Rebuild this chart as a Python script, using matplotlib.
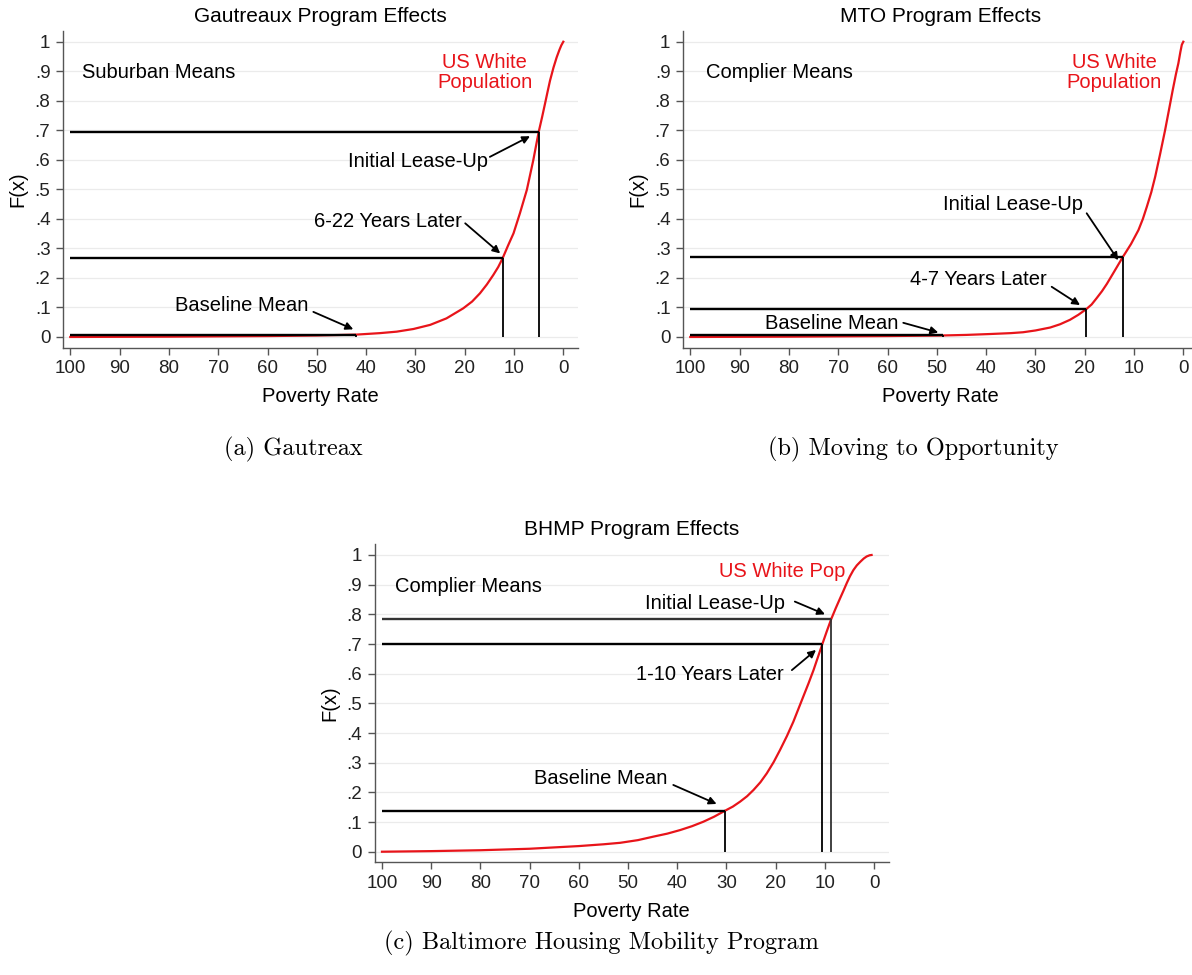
import numpy as np
import matplotlib
matplotlib.use("Agg")
import matplotlib.pyplot as plt

plt.rcParams['font.family'] = ['Liberation Sans', 'DejaVu Sans']

# CDF of poverty rate, US white population
pov_a = [100, 90, 80, 70, 60, 50, 42, 37.2, 33.8, 30.4, 27, 23.7, 20.3, 18.5, 16.9, 15.5,
         14.2, 13.2, 12.3, 11.2, 10.1, 8.8, 7.4, 6.1, 5.0, 4.3, 3.7, 3.2, 2.7, 2.0, 1.35,
         0.8, 0.4, 0]
cdf_a = [0, 0.0005, 0.001, 0.002, 0.003, 0.005, 0.008, 0.013, 0.018, 0.027, 0.041, 0.063,
         0.097, 0.12, 0.148, 0.178, 0.21, 0.237, 0.267, 0.31, 0.351, 0.419, 0.498, 0.598,
         0.694, 0.745, 0.791, 0.83, 0.868, 0.912, 0.947, 0.972, 0.988, 1.0]

pov_b = [100, 80, 60, 49, 44, 39.2, 35, 32.5, 30, 27, 25, 23, 21.3, 19.7, 18.6, 17.6, 16.5,
         15.5, 14, 12.3, 10.6, 9.1, 8.2, 7.4, 6.5, 5.7, 4.7, 3.7, 2.9, 2.15, 1.5, 1.0, 0.6,
         0.3, 0]
cdf_b = [0, 0.001, 0.003, 0.005, 0.007, 0.01, 0.013, 0.016, 0.022, 0.032, 0.043, 0.058,
         0.075, 0.094, 0.11, 0.131, 0.155, 0.18, 0.222, 0.27, 0.315, 0.362, 0.40, 0.441,
         0.49, 0.543, 0.62, 0.70, 0.77, 0.836, 0.89, 0.927, 0.965, 0.99, 1.0]

pov_c = [100, 90, 80, 70, 60, 55, 51.6, 48, 44.8, 42, 39.4, 37, 34.7, 32.5, 30.3, 28.7,
         27.2, 25.8, 24.5, 23.1, 21.8, 20.4, 19.1, 17.7, 16.4, 15.4, 14.4, 13.3, 12.3,
         11.4, 10.5, 9.6, 8.7, 7.8, 6.9, 6.2, 5.55, 4.9, 4.2, 3.5, 2.8, 2.1, 1.5, 0.9, 0.5]
cdf_c = [0, 0.002, 0.005, 0.01, 0.019, 0.025, 0.03, 0.039, 0.051, 0.061, 0.073, 0.086,
         0.101, 0.118, 0.138, 0.152, 0.169, 0.187, 0.208, 0.234, 0.264, 0.302, 0.343, 0.39,
         0.438, 0.48, 0.522, 0.568, 0.612, 0.656, 0.70, 0.743, 0.784, 0.82, 0.854, 0.88,
         0.905, 0.928, 0.949, 0.965, 0.977, 0.988, 0.995, 0.999, 1.0]

# program means: baseline, later, initial lease-up
mean_pov_a = [42.0, 12.3, 5.0]
mean_cdf_a = [0.008, 0.267, 0.694]
mean_pov_b = [48.7, 19.8, 12.3]
mean_cdf_b = [0.006, 0.094, 0.27]
mean_pov_c = [30.3, 10.5, 8.7]
mean_cdf_c = [0.138, 0.70, 0.784]

xticks = [100, 90, 80, 70, 60, 50, 40, 30, 20, 10, 0]
yticks = [0, .1, .2, .3, .4, .5, .6, .7, .8, .9, 1]
ylabels = ['0', '.1', '.2', '.3', '.4', '.5', '.6', '.7', '.8', '.9', '1']

titles = ['Gautreaux Program Effects', 'MTO Program Effects', 'BHMP Program Effects']
groups = ['Suburban Means', 'Complier Means', 'Complier Means']
captions = ['(a) Gautreax', '(b) Moving to Opportunity', '(c) Baltimore Housing Mobility Program']

W, H = 1192, 975
RED = '#e8141a'
fig = plt.figure(figsize=(W / 100, H / 100), dpi=100)


def px_axes(x0, x1, y0, y1):
    return fig.add_axes([x0 / W, 1 - y1 / H, (x1 - x0) / W, (y1 - y0) / H])


def panel(ax, pov, cdf, mpov, mcdf, title, group, grp_xy, pop_text, pop_xy, pop_ha, notes):
    ax.set_xlim(101.5, -3)
    ax.set_ylim(-0.036, 1.036)
    for yv in yticks:
        ax.axhline(yv, color='#ebebeb', lw=0.9, zorder=0)
    ax.plot(pov, cdf, color=RED, lw=1.6, zorder=2, solid_joinstyle='round')
    for i, (p, f) in enumerate(zip(mpov, mcdf)):
        c = '#333333' if (i == 2 and pop_ha == 'right') else 'black'
        ax.plot([100, p], [f, f], color=c, lw=1.7, zorder=3, solid_capstyle='butt')
        ax.plot([p, p], [0, f], color=c, lw=1.3, zorder=3, solid_capstyle='butt')
    for s in ['top', 'right']:
        ax.spines[s].set_visible(False)
    for s in ['left', 'bottom']:
        ax.spines[s].set_color('#555555')
        ax.spines[s].set_linewidth(1.0)
    ax.set_xticks(xticks)
    ax.set_yticks(yticks, ylabels)
    ax.tick_params(direction='out', length=5, width=1, color='#555555',
                   labelsize=13.5, labelcolor='#222222', pad=4)
    ax.set_ylabel('F(x)', fontsize=14.5, va='center')
    ax.yaxis.set_label_coords(-0.087, 0.5)
    ax.set_xlabel('Poverty Rate', fontsize=14.5, va='center')
    ax.xaxis.set_label_coords(0.5, -0.155)
    ax.text(0.5, 1.045, title, transform=ax.transAxes, ha='center', va='center', fontsize=15)
    ax.text(grp_xy[0], grp_xy[1], group, ha='left', va='center', fontsize=14.5)
    ax.text(pop_xy[0], pop_xy[1], pop_text, ha=pop_ha, va='center', multialignment='center',
            color=RED, fontsize=14.5, linespacing=1.05)
    for txt, txy, tail, tip in notes:
        ax.text(txy[0], txy[1], txt, ha='right', va='center', fontsize=14.5)
        ax.annotate('', xy=tip, xytext=tail,
                    arrowprops=dict(arrowstyle='-|>', color='black', lw=1.3,
                                    mutation_scale=11, shrinkA=0, shrinkB=0))


ax_a = px_axes(62.9, 578.1, 31.1, 347.6)
panel(ax_a, pov_a, cdf_a, mean_pov_a, mean_cdf_a, titles[0], groups[0], (97.6, 0.897),
      'US White\nPopulation', (15.9, 0.897), 'center',
      [('Initial Lease-Up', (15.2, 0.594), (14.9, 0.61), (6.75, 0.68)),
       ('6-22 Years Later', (20.6, 0.39), (19.9, 0.385), (12.8, 0.283)),
       ('Baseline Mean', (51.7, 0.108), (50.7, 0.085), (42.6, 0.026))])

ax_b = px_axes(682.9, 1198.1, 31.1, 347.6)
panel(ax_b, pov_b, cdf_b, mean_pov_b, mean_cdf_b, titles[1], groups[1], (96.8, 0.897),
      'US White\nPopulation', (14.0, 0.897), 'center',
      [('Initial Lease-Up', (20.3, 0.447), (19.6, 0.419), (13.2, 0.26)),
       ('4-7 Years Later', (27.7, 0.195), (26.7, 0.17), (20.95, 0.108)),
       ('Baseline Mean', (57.8, 0.044), (56.8, 0.048), (49.7, 0.015))])

ax_c = px_axes(374.6, 888.8, 544.3, 862.4)
panel(ax_c, pov_c, cdf_c, mean_pov_c, mean_cdf_c, titles[2], groups[2], (97.4, 0.893),
      'US White Pop', (5.9, 0.944), 'right',
      [('Initial Lease-Up', (18.1, 0.837), (16.1, 0.843), (9.96, 0.80)),
       ('1-10 Years Later', (18.4, 0.596), (16.7, 0.612), (11.8, 0.68)),
       ('Baseline Mean', (42.1, 0.247), (40.8, 0.225), (32.0, 0.161))])

for cap, cx, cy in zip(captions, [293, 913, 601], [449, 449, 943]):
    fig.text(cx / W, 1 - cy / H, cap, family='cmr10', fontsize=17.5, ha='center', va='center')

fig.savefig('out.png', dpi=100, facecolor='white')
